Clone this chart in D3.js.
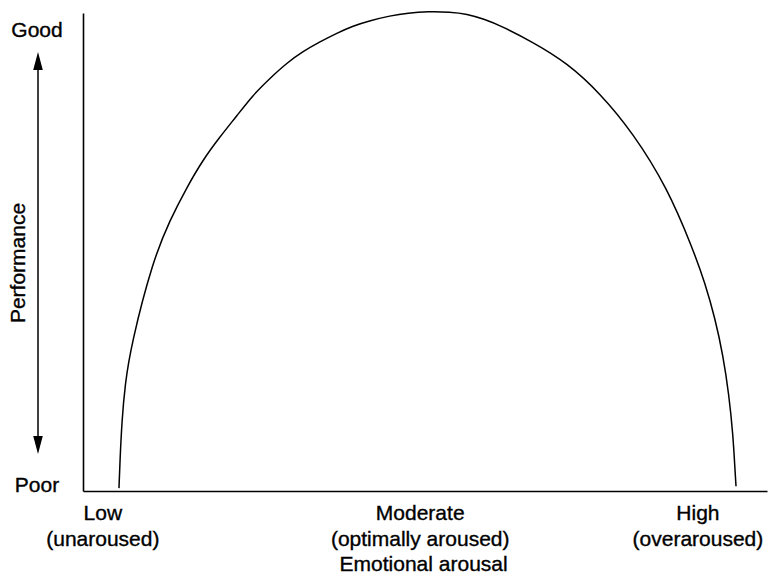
<!DOCTYPE html>
<html>
<head>
<meta charset="utf-8">
<script src="https://cdn.jsdelivr.net/npm/d3@7"></script>
<style>
  html, body { margin: 0; padding: 0; background: #fff; }
  svg { display: block; font-family: "Liberation Sans", Arial, sans-serif; }
  text { fill: #000; stroke: #000; stroke-width: 0.35px; }
</style>
</head>
<body>
<div id="chart"></div>
<script>
// arousal (0-100) vs performance (0-100)
const arousal = [5.26, 5.41, 5.70, 6.14, 7.02, 10.23, 12.72, 15.20, 17.54, 20.03, 22.51, 24.85, 27.34,
    29.82, 32.16, 34.65, 37.13, 39.47, 41.96, 44.88, 47.51, 50.44, 53.65, 56.14, 58.63, 60.96, 65.79,
    70.76, 75.58, 80.41, 85.38, 89.18, 90.94, 92.40, 93.57, 94.44, 95.03, 95.32, 95.47];
const performance = [0.6, 6.5, 14.8, 22.1, 30.4, 48.1, 56.5, 63.3, 69.0, 73.8, 78.2, 82.5, 86.0,
    89.2, 91.6, 93.6, 95.4, 96.9, 98.0, 99.0, 99.6, 99.9, 99.8, 99.4, 98.3, 97.0, 93.5,
    89.2, 82.9, 74.6, 63.3, 50.4, 43.3, 36.0, 28.3, 20.0, 11.7, 4.4, 1.0];

const xTickPos = [2.9, 49.3, 89.9];
const xTickLabels = [["Low", "(unaroused)"], ["Moderate", "(optimally aroused)"], ["High", "(overaroused)"]];
const yEndLabels = ["Poor", "Good"];
const xTitle = "Emotional arousal";
const yTitle = "Performance";

const width = 768, height = 575;
const FONT = 21;

const svg = d3.select("#chart").append("svg")
    .attr("width", width)
    .attr("height", height);

const x = d3.scaleLinear().domain([0, 100]).range([83, 767]);
const y = d3.scaleLinear().domain([0, 100]).range([491, 11]);
const yAxisScale = y.copy().range([491, 13]);

// axes: plain lines, no ticks
svg.append("g")
    .attr("transform", `translate(0,${y(0)})`)
    .call(d3.axisBottom(x).tickValues([]).tickSizeOuter(0))
    .call(g => g.select(".domain").attr("stroke", "#000").attr("stroke-width", 1.6));

svg.append("g")
    .attr("transform", `translate(${x(0)},0)`)
    .call(d3.axisLeft(yAxisScale).tickValues([]).tickSizeOuter(0))
    .call(g => g.select(".domain").attr("stroke", "#000").attr("stroke-width", 1.6));

// the inverted-U curve (B-spline smooths the hand-read points)
const points = arousal.map((a, i) => ({ a, p: performance[i] }));
const line = d3.line()
    .x(d => x(d.a))
    .y(d => y(d.p))
    .curve(d3.curveBasis);

svg.append("path")
    .datum(points)
    .attr("fill", "none")
    .attr("stroke", "#000")
    .attr("stroke-width", 1.5)
    .attr("d", line);

// x category labels
const xl = svg.append("g")
    .attr("text-anchor", "middle")
    .attr("font-size", FONT);

xl.selectAll("text")
    .data(xTickPos)
    .join("text")
    .attr("x", d => x(d))
    .attr("y", 520)
    .each(function(d, i) {
        d3.select(this).selectAll("tspan")
            .data(xTickLabels[i])
            .join("tspan")
            .attr("x", x(d))
            .attr("dy", (t, j) => j === 0 ? 0 : 26)
            .text(t => t);
    });

xl.append("text")
    .attr("x", x(49.8))
    .attr("y", 571)
    .text(xTitle);

// y end labels + double arrow
const armX = 38;
svg.append("text")
    .attr("x", armX - 1)
    .attr("y", 492)
    .attr("text-anchor", "middle")
    .attr("font-size", FONT)
    .text(yEndLabels[0]);

svg.append("text")
    .attr("x", armX - 1)
    .attr("y", 37)
    .attr("text-anchor", "middle")
    .attr("font-size", FONT)
    .text(yEndLabels[1]);

svg.append("line")
    .attr("x1", armX).attr("x2", armX)
    .attr("y1", 60).attr("y2", 446)
    .attr("stroke", "#000")
    .attr("stroke-width", 1.5);

// arrowheads drawn as triangles
const heads = [{ tip: 52, dir: 1 }, { tip: 454, dir: -1 }];
svg.append("g")
    .selectAll("path")
    .data(heads)
    .join("path")
    .attr("fill", "#000")
    .attr("d", d => `M${armX},${d.tip}L${armX - 4.8},${d.tip + d.dir * 18}L${armX + 4.8},${d.tip + d.dir * 18}Z`);

svg.append("text")
    .attr("transform", `translate(25,263) rotate(-90)`)
    .attr("text-anchor", "middle")
    .attr("font-size", FONT)
    .text(yTitle);
</script>
</body>
</html>
